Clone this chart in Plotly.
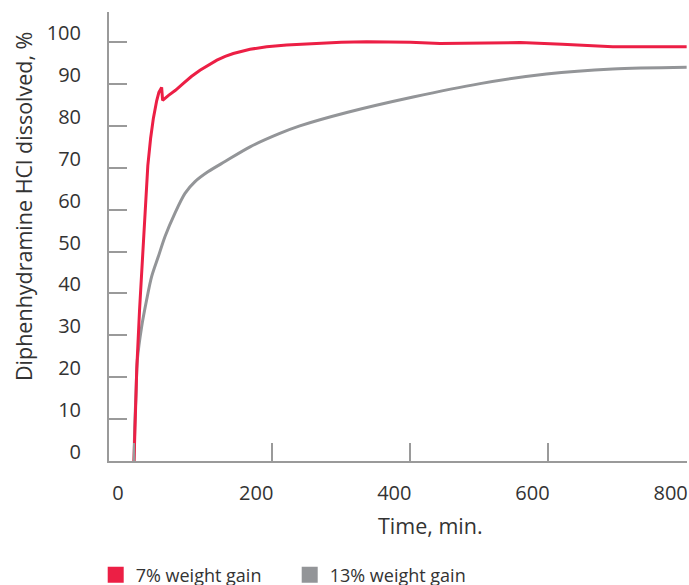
import plotly.graph_objects as go

# --- data ---
t_7 = [0, 2, 4, 8, 12, 16, 20, 24, 28, 32.8, 36, 40, 41.4, 50, 60, 71, 83, 95.5, 108, 120,
       132, 143.7, 168, 192, 221, 260, 300, 337, 400, 443, 500, 559, 620, 693, 750, 800]
v_7 = [0, 12, 22, 36, 48, 60, 70.5, 77, 81.8, 86.0, 88.0, 89.2, 86.1, 87.3, 88.5, 90.1, 91.8, 93.3, 94.6, 95.7,
       96.6, 97.3, 98.3, 98.9, 99.3, 99.7, 99.95, 100.1, 100.0, 99.7, 99.8, 99.9, 99.5, 98.9, 98.9, 98.9]

t_13 = [0, 1, 2.9, 4.8, 11.1, 18.3, 25.5, 35.2, 44.9, 59.3, 73.8, 88.3, 107.5, 131.7, 168, 211, 240,
        308, 404, 501, 597, 693, 800]
v_13 = [0, 8, 16.2, 24.1, 32.1, 38.5, 44.0, 48.8, 53.6, 59.2, 63.9, 66.7, 69.1, 71.5, 75.0, 78.2, 80.0,
        83.2, 86.9, 90.1, 92.4, 93.6, 94.0]

series_names = ["7% weight gain", "13% weight gain"]
x_ticks = [0, 200, 400, 600, 800]
y_ticks = list(range(0, 101, 10))

RED = "#ec1f45"
GREY = "#939598"
AXIS = "#9a9a9a"
TXT = "#333333"
FONT = "Open Sans"

fig = go.Figure()
fig.add_trace(go.Scatter(x=t_13, y=v_13, mode="lines", line=dict(color=GREY, width=3, shape="spline", smoothing=0.8),
                         showlegend=False, hoverinfo="skip"))
fig.add_trace(go.Scatter(x=t_7, y=v_7, mode="lines", line=dict(color=RED, width=3),
                         showlegend=False, hoverinfo="skip"))
# legend entries (square swatches)
for name, col in zip(series_names, [RED, GREY]):
    fig.add_trace(go.Scatter(x=[None], y=[None], mode="markers", name=name,
                             marker=dict(symbol="square", size=18, color=col)))

fig.update_layout(
    width=689, height=585,
    margin=dict(l=109, r=2, t=12, b=124, autoexpand=False),
    plot_bgcolor="white", paper_bgcolor="white",
    font=dict(family=FONT, size=20, color=TXT),
    showlegend=True,
    legend=dict(orientation="h", x=-0.023, y=-0.213, xanchor="left", yanchor="top",
                font=dict(size=18, color=TXT), entrywidth=149, entrywidthmode="pixels",
                itemsizing="trace", bgcolor="rgba(0,0,0,0)", tracegroupgap=0),
)
fig.update_xaxes(range=[-36.2, 800.5], tickvals=x_ticks, ticktext=[str(v) for v in x_ticks],
                 ticks="inside", ticklen=18, tickwidth=1.5, tickcolor=AXIS,
                 showline=True, linecolor=AXIS, linewidth=2, showgrid=False, zeroline=False,
                 ticklabelstandoff=13, ticklabelshift=-16, ticklabeloverflow="allow",
                 tickfont=dict(size=20, color=TXT))
fig.update_yaxes(range=[0, 107.2], tickvals=y_ticks, ticktext=[str(v) for v in y_ticks],
                 ticks="inside", ticklen=18, tickwidth=1.5, tickcolor=AXIS,
                 showline=True, linecolor=AXIS, linewidth=2, showgrid=False, zeroline=False,
                 ticklabelstandoff=22, ticklabelshift=-9, ticklabeloverflow="allow",
                 tickfont=dict(size=20, color=TXT))

fig.add_annotation(text="Time, min.", xref="paper", yref="paper", x=(430 - 109) / 578, y=-(525 - 461) / 449,
                   xanchor="center", yanchor="middle", showarrow=False, font=dict(size=21.5, color=TXT))
fig.add_annotation(text="Diphenhydramine HCl dissolved, %", xref="paper", yref="paper",
                   x=-(109 - 24) / 578, y=(461 - 207) / 449, textangle=-90,
                   xanchor="center", yanchor="middle", showarrow=False, font=dict(size=21.5, color=TXT))

fig.write_html("out.html")
